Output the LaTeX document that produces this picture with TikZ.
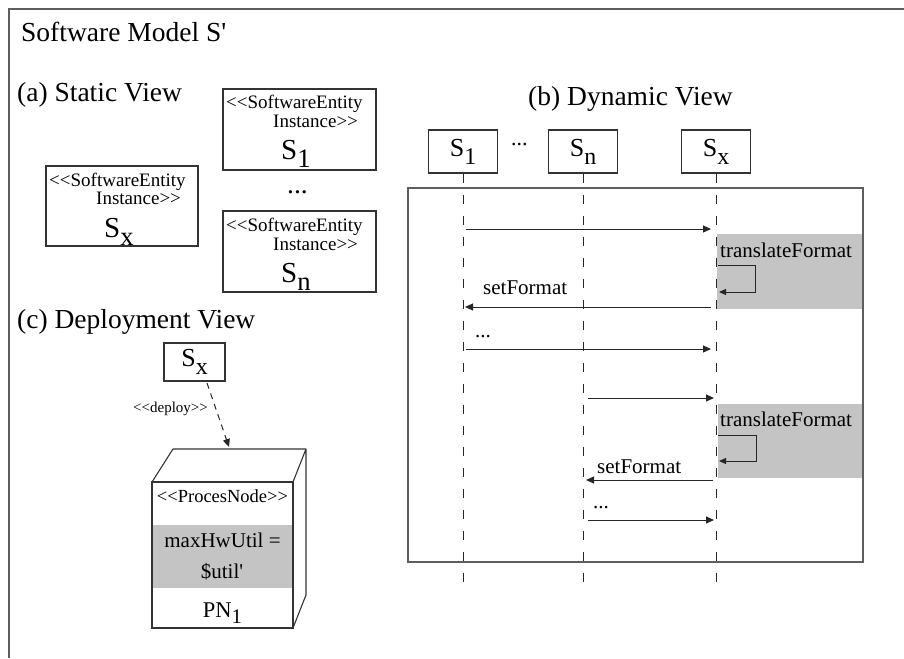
\documentclass[tikz,border=0pt]{standalone}
\usepackage{fontspec}
\usepackage{graphicx}
\setmainfont{Liberation Serif}
\usetikzlibrary{arrows.meta}

\definecolor{band}{HTML}{C4C4C4}
\definecolor{edge}{HTML}{333333}
\definecolor{framegray}{HTML}{5E5E5E}

% lowered, slightly reduced index letter
\newcommand\lowidx[1]{\raisebox{-0.3em}{\scalebox{0.92}{#1}}}
\newcommand\fs[1]{\fontsize{#1}{#1}\selectfont}
% stereotype brackets and straight quote, kept as plain characters
\newcommand\stl{\textless\kern0pt\textless}
\newcommand\str{\textgreater\kern0pt\textgreater}
\newcommand\sq{\textquotesingle}

\tikzset{
  frameline/.style={draw=framegray, line width=1.6pt},
  panel/.style={draw=framegray, line width=1.3pt},
  umlbox/.style={draw=edge, line width=1.1pt, fill=white, inner sep=0pt},
  lbl/.style={anchor=base west, inner sep=0pt},
  clbl/.style={anchor=base, inner sep=0pt},
  lifeline/.style={draw=black!85, line width=0.9pt, dash pattern=on 9pt off 12pt},
  msg/.style={draw=black!85, line width=1pt, -{Triangle[length=8pt,width=7pt]}},
  selfmsg/.style={draw=black!85, line width=1pt, -{Triangle[length=7pt,width=6pt]}},
  deployarrow/.style={draw=black!85, line width=1pt, dash pattern=on 6pt off 5pt, -{Triangle[length=8pt,width=7pt]}},
}

\begin{document}
\begin{tikzpicture}[x=1pt, y=-1pt]
\useasboundingbox (0,0) rectangle (904,658);

% outer frame of the model
\draw[frameline] (9,658) -- (9,9) -- (904,9);
\node[lbl, font=\fs{27.5}] (title) at (21,42) {Software Model S\sq};

% ---------- (a) static view ----------
\node[lbl, font=\fs{27.5}] (hstatic) at (17,102) {(a) Static View};

\node[umlbox, minimum width=153pt, minimum height=81pt] (st1) at (299.5,129.5) {};
\node[lbl, font=\fs{19}] (st1a) at (226,109) {\stl SoftwareEntity};
\node[lbl, font=\fs{19}] (st1b) at (273,128) {Instance\str};
\node[lbl, font=\fs{29}] (st1c) at (281,159) {S\lowidx{1}};

\node[lbl, font=\fs{27.5}] (stdots) at (287,193) {...};

\node[umlbox, minimum width=153pt, minimum height=81pt] (stn) at (299.5,251.5) {};
\node[lbl, font=\fs{19}] (stna) at (226,231) {\stl SoftwareEntity};
\node[lbl, font=\fs{19}] (stnb) at (273,250) {Instance\str};
\node[lbl, font=\fs{29}] (stnc) at (281,282) {S\lowidx{n}};

\node[umlbox, minimum width=152pt, minimum height=80pt] (stx) at (122,206) {};
\node[lbl, font=\fs{19}] (stxa) at (49,186) {\stl SoftwareEntity};
\node[lbl, font=\fs{19}] (stxb) at (96,204) {Instance\str};
\node[lbl, font=\fs{29}] (stxc) at (104,237) {S\lowidx{x}};

% ---------- (c) deployment view ----------
\node[lbl, font=\fs{27.5}] (hdeploy) at (17,328) {(c) Deployment View};

\node[umlbox, minimum width=61pt, minimum height=38pt, font=\fs{26}] (dsx) at (194.5,362) {S\lowidx{x}};

% processing node drawn as a box in perspective
\fill[band] (152,525) rectangle (293,588);
\draw[edge, line width=1.1pt] (152,482) rectangle (293,628);
\draw[edge, line width=1.1pt, line join=round]
  (152,482) -- (173,449) -- (306,449) -- (293,482)
  (306,449) -- (306,595) -- (293,628);
\coordinate (pntop) at (229,447);
\node[clbl, font=\fs{18.5}] (pnst) at (222.5,502) {\stl ProcesNode\str};
\node[clbl, font=\fs{21}] (pnatt1) at (222.5,547) {maxHwUtil =};
\node[clbl, font=\fs{21}] (pnatt2) at (222,578) {\$util\sq};
\node[clbl, font=\fs{22.5}] (pnname) at (222.5,617) {PN\lowidx{1}};

\coordinate (dsxout) at (207,383);
\draw[deployarrow] (dsxout) -- (pntop);
\node[lbl, font=\fs{15}] (deploylbl) at (133,412) {\stl deploy\str};

% ---------- (b) dynamic view ----------
\node[lbl, font=\fs{27.5}] (hdyn) at (528,106) {(b) Dynamic View};

% activation bands behind the lifelines
\fill[band] (717,234) rectangle (863,309);
\fill[band] (718,404) rectangle (863,478);

% interaction frame
\draw[panel] (408,188) rectangle (863,562);

\node[umlbox, minimum width=69pt, minimum height=43pt, font=\fs{26}] (dl1) at (463,151.5) {S\lowidx{1}};
\node[umlbox, minimum width=69pt, minimum height=43pt, font=\fs{26}] (dln) at (583,151.5) {S\lowidx{n}};
\node[umlbox, minimum width=69pt, minimum height=43pt, font=\fs{26}] (dlx) at (716,151.5) {S\lowidx{x}};
\node[lbl, font=\fs{22}] (dldots) at (511,146) {...};

\coordinate (end1) at (463,588);
\coordinate (endn) at (583,590);
\coordinate (endx) at (716,585);
\draw[lifeline] (dl1.south) -- (end1);
\draw[lifeline] (dln.south) -- (endn);
\draw[lifeline] (dlx.south) -- (endx);

% first exchange S1 <-> Sx
\coordinate (m1a) at (466,229); \coordinate (m1b) at (711,229);
\draw[msg] (m1a) -- (m1b);
\node[lbl, font=\fs{21}] (tf1) at (720,257) {translateFormat};
\coordinate (l1a) at (718,265); \coordinate (l1b) at (755,265);
\coordinate (l1c) at (755,292); \coordinate (l1d) at (719,292);
\draw[selfmsg] (l1a) -- (l1b) -- (l1c) -- (l1d);
\node[lbl, font=\fs{21}] (sf1) at (483,294) {setFormat};
\coordinate (m2a) at (711,307); \coordinate (m2b) at (465,307);
\draw[msg] (m2a) -- (m2b);
\node[lbl, font=\fs{21}] (dots1) at (475,337) {...};
\coordinate (m3a) at (466,349); \coordinate (m3b) at (711,349);
\draw[msg] (m3a) -- (m3b);

% second exchange Sn <-> Sx
\coordinate (m4a) at (588,398); \coordinate (m4b) at (714,398);
\draw[msg] (m4a) -- (m4b);
\node[lbl, font=\fs{21}] (tf2) at (720,426) {translateFormat};
\coordinate (l2a) at (718,435); \coordinate (l2b) at (756,435);
\coordinate (l2c) at (756,461); \coordinate (l2d) at (719,461);
\draw[selfmsg] (l2a) -- (l2b) -- (l2c) -- (l2d);
\node[lbl, font=\fs{21}] (sf2) at (597,473) {setFormat};
\coordinate (m5a) at (713,480); \coordinate (m5b) at (586,480);
\draw[msg] (m5a) -- (m5b);
\node[lbl, font=\fs{21}] (dots2) at (593,508) {...};
\coordinate (m6a) at (588,520); \coordinate (m6b) at (714,520);
\draw[msg] (m6a) -- (m6b);

\end{tikzpicture}
\end{document}
